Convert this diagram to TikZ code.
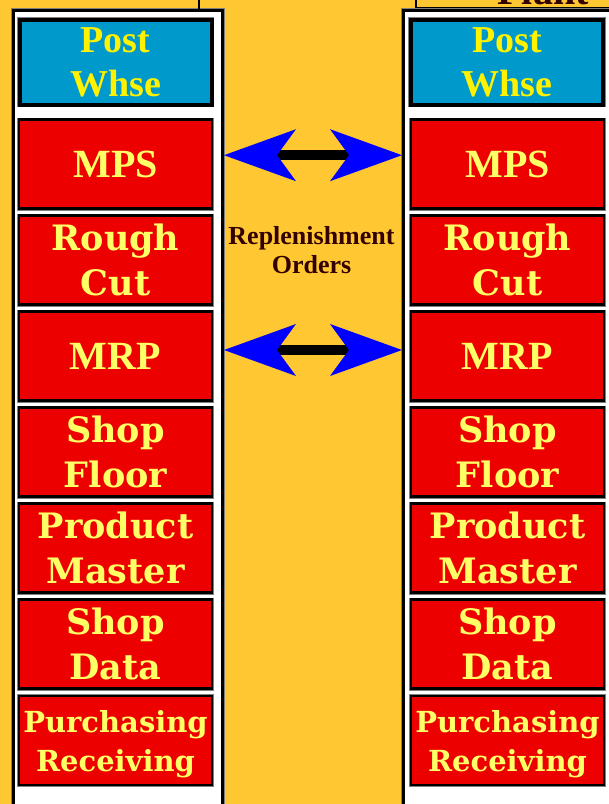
\documentclass[tikz,border=0pt]{standalone}
\usepackage{fontspec}
\setmainfont{Liberation Serif}
\newfontfamily\schoolfont{DejaVu Serif}
\usetikzlibrary{arrows.meta, positioning}
\definecolor{bggold}{RGB}{255,200,50}
\definecolor{whseblue}{RGB}{0,153,204}
\definecolor{boxred}{RGB}{236,0,0}
\definecolor{textyellow}{RGB}{255,255,102}
\definecolor{arrowblue}{RGB}{0,0,255}
\definecolor{labelbrown}{RGB}{51,0,0}

\begin{document}
\begin{tikzpicture}[x=1pt, y=-1pt,
    header/.style={draw=black, line width=2pt, fill=bggold, inner sep=0pt, minimum height=100pt},
    frame/.style={draw=black, line width=3pt, fill=white, inner sep=0pt, anchor=north west, minimum height=820pt, preaction={draw=gray, line width=4.5pt}},
    whse/.style={draw=black, line width=4pt, fill=whseblue, text=yellow, minimum width=192pt, minimum height=85pt, inner sep=0pt, align=center, font=\bfseries\fontsize{38}{44}\selectfont, preaction={draw=gray, line width=5.5pt}},
    module/.style={draw=black, line width=2.5pt, fill=boxred, text=textyellow, minimum width=193pt, minimum height=89pt, inner sep=0pt, align=center, font=\schoolfont\bfseries\fontsize{35}{45}\selectfont, preaction={draw=gray, line width=4pt}},
    plan/.style={font=\bfseries\fontsize{40}{44}\selectfont},
    sync/.style={draw=black, line width=10pt, >={Stealth[length=72pt, width=52pt, inset=19pt, line width=0pt, color=arrowblue, fill=arrowblue]}, <->}]
    \useasboundingbox (0,0) rectangle (609,804);
    \clip (0,0) rectangle (609,804);
    \fill[bggold] (0,0) rectangle (609,804);
    % header above the right column
    \node[header, minimum width=230pt, anchor=south west] (rhead) at (414.5,8.5) {};
    \node[anchor=base, text=labelbrown, font=\bfseries\fontsize{40}{44}\selectfont] (plant) at (543,4) {Plant};
    % columns
    \node[frame, minimum width=209.5pt] (lpanel) at (11.5,8.5) {};
    \node[frame, minimum width=230pt] (rpanel) at (402,8.5) {};
    \coordinate (ltop) at (199,-20);
    \draw[line width=2pt] (ltop) -- (ltop |- lpanel.north);
    % left column
    \node[whse] (lwhse) at (115.5,62) {Post\\Whse};
    \node[module, plan] (lmps) at (115.5,164.2) {MPS};
    \node[module] (lrough) at (115.5,260) {Rough\\Cut};
    \node[module, plan] (lmrp) at (115.5,356) {MRP};
    \node[module] (lshop) at (115.5,452) {Shop\\Floor};
    \node[module] (lprod) at (115.5,548) {Product\\Master};
    \node[module] (ldata) at (115.5,644) {Shop\\Data};
    \node[module, font=\schoolfont\bfseries\fontsize{29}{39}\selectfont] (lpurch) at (115.5,740.5) {Purchasing\\\smash{Receiving}};
    % right column
    \node[whse] (rwhse) at (507,62) {Post\\Whse};
    \node[module, plan] (rmps) at (507.5,164.2) {MPS};
    \node[module] (rrough) at (507.5,260) {Rough\\Cut};
    \node[module, plan] (rmrp) at (507.5,356) {MRP};
    \node[module] (rshop) at (507.5,452) {Shop\\Floor};
    \node[module] (rprod) at (507.5,548) {Product\\Master};
    \node[module] (rdata) at (507.5,644) {Shop\\Data};
    \node[module, font=\schoolfont\bfseries\fontsize{29}{39}\selectfont] (rpurch) at (507.5,740.5) {Purchasing\\\smash{Receiving}};
    % replenishment links
    \coordinate (mpsrow) at ([yshift=9pt]lmps.east);
    \coordinate (mrprow) at ([yshift=6pt]lmrp.east);
    \draw[sync] (mpsrow -| lpanel.east) -- (mpsrow -| rpanel.west);
    \draw[sync] (mrprow -| lpanel.east) -- (mrprow -| rpanel.west);
    \node[align=center, text=labelbrown, font=\bfseries\fontsize{26}{29}\selectfont] (orders) at (311.5,250) {Replenishment\\Orders};
\end{tikzpicture}
\end{document}
